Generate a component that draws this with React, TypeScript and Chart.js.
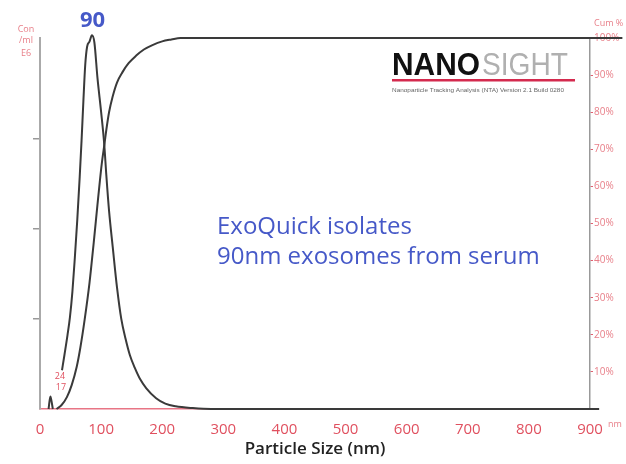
import React, { useEffect, useRef } from 'react';
import { Chart, registerables } from 'chart.js';

Chart.register(...registerables);

// ---------- data ----------
const xTickValues = [0, 100, 200, 300, 400, 500, 600, 700, 800, 900];
const concTickValues = [1, 2, 3];
const pctTickValues = [10, 20, 30, 40, 50, 60, 70, 80, 90, 100];

const distNm = [14, 17, 19, 21, 30, 36, 40, 45, 49, 53, 57, 61, 65, 68, 71, 74, 77, 81, 85, 89, 94, 100, 105, 108.5, 113, 119, 126, 133, 140, 147, 155, 164, 174, 190, 205, 222, 250, 280, 915];
const distConc = [0, 0.14, 0.08, 0, null, 0.43, 0.6, 0.82, 1.02, 1.3, 1.68, 2.1, 2.58, 2.98, 3.42, 3.82, 4.02, 4.08, 4.15, 4.07, 3.68, 3.3, 2.95, 2.6, 2.2, 1.8, 1.35, 1.0, 0.78, 0.6, 0.46, 0.33, 0.23, 0.12, 0.06, 0.03, 0.01, 0, 0];

const cumNm = [27, 35, 44, 52, 60, 66, 73, 81, 88, 94, 98, 101, 105.7, 108.5, 113, 118.7, 126, 135, 145, 157, 170, 184, 200, 215, 230, 300, 953];
const cumPct = [0, 1, 3.2, 6.5, 11.3, 16.5, 24, 34, 45, 55, 61.5, 66, 71.7, 75.2, 80, 84.1, 88, 90.8, 93.2, 95.2, 96.9, 98.1, 99.1, 99.6, 100, 100, 100];

const peakNm = 86;
const peakLabel = '90';
const leftAxisTitle = ['Con', '/ml', 'E6'];
const rightAxisTitle = 'Cum %';
const xUnit = 'nm';
const xTitle = 'Particle Size (nm)';
const noteLines = ['ExoQuick isolates', '90nm exosomes from serum'];
const markerLabels = ['24', '17'];
const logoBold = 'NANO';
const logoLight = 'SIGHT';
const logoSub = 'Nanoparticle Tracking Analysis (NTA) Version 2.1 Build 0280';

const RED = '#e0505f';
const PALE_RED = '#e8808a';
const BLUE = '#4659c8';
const CURVE = '#3a3a3a';

const annotate = {
  id: 'annotate',
  beforeDraw(chart: any) {
    const { ctx, width, height } = chart;
    ctx.save();
    ctx.fillStyle = '#ffffff';
    ctx.fillRect(0, 0, width, height);
    ctx.restore();
  },
  afterDraw(chart: any) {
    const { ctx, chartArea } = chart;
    const xs = chart.scales.x;
    ctx.save();
    ctx.textBaseline = 'alphabetic';

    // peak label
    ctx.fillStyle = BLUE;
    ctx.font = 'bold 22px "Open Sans", sans-serif';
    ctx.textAlign = 'center';
    ctx.fillText(peakLabel, xs.getPixelForValue(peakNm), chartArea.top - 11);

    // note
    ctx.font = '24px "Open Sans", sans-serif';
    ctx.textAlign = 'left';
    ctx.fillText(noteLines[0], 217, 234);
    ctx.fillText(noteLines[1], 217, 264);

    // left axis title
    ctx.fillStyle = PALE_RED;
    ctx.font = '9px "Open Sans", sans-serif';
    ctx.textAlign = 'center';
    ctx.textBaseline = 'middle';
    const ly = [29, 40, 53];
    leftAxisTitle.forEach((t, i) => ctx.fillText(t, 26, ly[i]));

    // right axis title
    ctx.textAlign = 'left';
    ctx.fillText(rightAxisTitle, 594, 23);

    // unit after x ticks
    ctx.fillText(xUnit, 608, 424);

    // marker labels
    ctx.fillStyle = RED;
    ctx.textAlign = 'center';
    ctx.fillText(markerLabels[0], 60, 376);
    ctx.fillText(markerLabels[1], 61, 387);

    // x title
    ctx.fillStyle = '#222';
    ctx.font = '600 17px "Open Sans", sans-serif';
    ctx.textBaseline = 'alphabetic';
    ctx.fillText(xTitle, (chartArea.left + chartArea.right) / 2, 454);

    // logo
    const drawFit = (text: string, x: number, y: number, w: number, font: string, color: string) => {
      ctx.font = font;
      ctx.fillStyle = color;
      ctx.textAlign = 'left';
      const m = ctx.measureText(text).width;
      ctx.save();
      ctx.translate(x, y);
      ctx.scale(w / m, 1);
      ctx.fillText(text, 0, 0);
      ctx.restore();
    };
    drawFit(logoBold, 392, 75, 88, 'bold 32px "Liberation Sans", Arial, sans-serif', '#111');
    drawFit(logoLight, 482, 75, 86, '32px "Liberation Sans", Arial, sans-serif', '#b0b0b0');
    ctx.fillStyle = '#d42a4e';
    ctx.fillRect(392, 79, 183, 2.5);
    drawFit(logoSub, 392, 92, 172, '5px "Liberation Sans", Arial, sans-serif', '#666');

    ctx.restore();
  },
};

export default function App() {
  const ref = useRef<HTMLCanvasElement | null>(null);

  useEffect(() => {
    document.body.style.margin = '0';
    const canvas = ref.current;
    if (!canvas) return;

    const distData = distNm.map((x, i) => ({ x, y: distConc[i] }));
    const cumData = cumNm.map((x, i) => ({ x, y: cumPct[i] }));

    const chart = new Chart(canvas, {
      type: 'line',
      data: {
        datasets: [
          {
            label: 'Concentration',
            data: distData as any,
            yAxisID: 'y',
            borderColor: CURVE,
            borderWidth: 2,
            pointRadius: 0,
            cubicInterpolationMode: 'monotone',
            spanGaps: false,
            clip: false as any,
          },
          {
            label: 'Cumulative',
            data: cumData as any,
            yAxisID: 'y2',
            borderColor: CURVE,
            borderWidth: 2,
            pointRadius: 0,
            cubicInterpolationMode: 'monotone',
            clip: false as any,
          },
        ],
      },
      options: {
        responsive: false,
        animation: false,
        devicePixelRatio: 1,
        layout: { padding: { top: 38, bottom: 30, left: 0, right: 0 } },
        plugins: {
          legend: { display: false },
          tooltip: { enabled: false },
        },
        scales: {
          x: {
            type: 'linear',
            min: 0,
            max: 900,
            afterBuildTicks: (axis: any) => {
              axis.ticks = xTickValues.map((v) => ({ value: v }));
            },
            afterFit: (axis: any) => {
              axis.height = 25;
            },
            ticks: {
              color: RED,
              font: { family: '"Open Sans", sans-serif', size: 15 },
              padding: 4,
              maxRotation: 0,
              autoSkip: false,
            },
            grid: { display: false },
            border: { display: true, color: '#e87585', width: 1.5 },
          },
          y: {
            position: 'left',
            min: 0,
            max: 4.12,
            afterBuildTicks: (axis: any) => {
              axis.ticks = concTickValues.map((v) => ({ value: v }));
            },
            afterFit: (axis: any) => {
              axis.width = 40;
            },
            ticks: { display: false },
            grid: {
              display: true,
              drawOnChartArea: false,
              drawTicks: true,
              tickLength: 7,
              color: '#999',
              lineWidth: 1.5,
            },
            border: { display: true, color: '#aaa', width: 2 },
          },
          y2: {
            position: 'right',
            min: 0,
            max: 100,
            afterBuildTicks: (axis: any) => {
              axis.ticks = pctTickValues.map((v) => ({ value: v }));
            },
            afterFit: (axis: any) => {
              axis.width = 36;
            },
            ticks: {
              color: PALE_RED,
              font: { family: '"Open Sans", sans-serif', size: 10 },
              padding: 1,
              callback: (v: any) => `${v}%`,
            },
            grid: {
              display: true,
              drawOnChartArea: false,
              drawTicks: true,
              tickLength: 3,
              color: '#e06070',
            },
            border: { display: true, color: '#999', width: 1.5 },
          },
        },
      },
      plugins: [annotate],
    });

    return () => chart.destroy();
  }, []);

  return (
    <canvas
      ref={ref}
      width={626}
      height={464}
      style={{ display: 'block', width: 626, height: 464 }}
    />
  );
}
